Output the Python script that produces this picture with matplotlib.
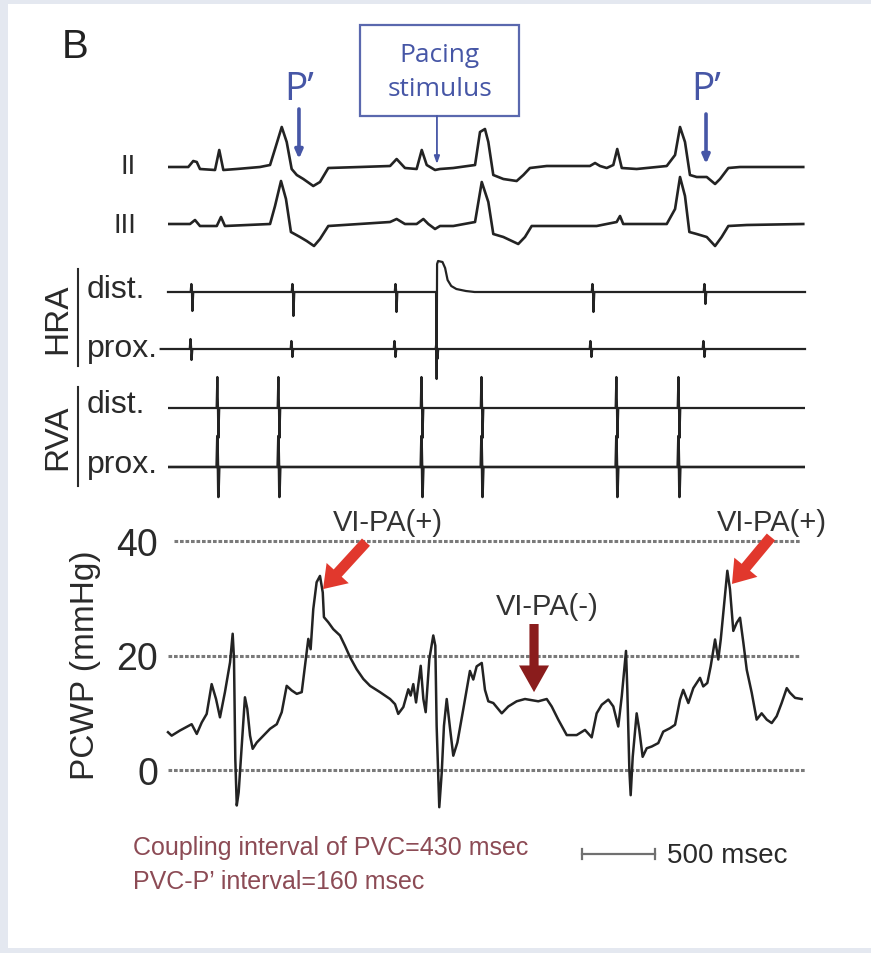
import matplotlib
matplotlib.use('Agg')
import matplotlib.pyplot as plt
from matplotlib.patches import Rectangle

plt.rcParams['font.family'] = ['Liberation Sans', 'DejaVu Sans']

# ---------------- data (time in msec from start of strip) ----------------
# surface ECG leads, amplitude in arbitrary units (positive = up)
ii_t = [0, 139, 173, 197, 219, 322, 351, 379, 471, 630, 699, 733, 779, 813, 847, 882, 927, 995, 1041, 1098,
        1315, 1521, 1566, 1623, 1703, 1738, 1772, 1829, 1863, 1954, 2103, 2137, 2171, 2194, 2228, 2297, 2388,
        2434, 2479, 2594, 2890, 2925, 2959, 3005, 3050, 3077, 3108, 3210, 3416, 3473, 3507, 3541, 3575, 3621,
        3690, 3747, 3781, 3838, 3918, 4351]
ii_amp = [0, 0, 6, 5, -2, -3, 17, -3, -2, 0, 2, 18, 40, 25, -2, -8, -12, -19, -15, -1,
          0, 1, 8, -1, -2, 17, 2, -3, -2, -1, 2, 35, 38, 25, -8, -12, -14,
          -8, -1, 1, 1, 4, 1, -1, 2, 18, -1, -2, 1, 12, 40, 25, -8, -10,
          -10, -17, -12, -1, 0, 0]

iii_t = [0, 151, 185, 219, 334, 363, 390, 699, 733, 774, 808, 842, 904, 950, 1000, 1041, 1098, 1521, 1566,
         1623, 1703, 1749, 1783, 1829, 1863, 1954, 2103, 2149, 2194, 2228, 2297, 2399, 2445, 2491, 2936, 3073,
         3096, 3118, 3416, 3473, 3507, 3541, 3571, 3621, 3690, 3747, 3792, 3838, 3964, 4351]
iii_amp = [0, 0, 4, -2, -2, 7, -2, 0, 18, 43, 25, -8, -13, -17, -22, -15, -2, 2, 5,
           0, 0, 5, 0, -5, -2, -2, 2, 42, 22, -10, -13, -20, -13, -2, -2, 2,
           8, 0, 0, 15, 47, 28, -8, -10, -13, -22, -13, -2, -1, 0]

# intracardiac electrograms: activation times and deflection sizes
hra_dist_spikes = [164, 856, 1562, 2911, 3678]
hra_dist_up = [8, 8, 8, 8, 8]
hra_dist_down = [19, 24, 20, 20, 12]
hra_prox_spikes = [158, 849, 1555, 1842, 2897, 3671]
hra_prox_up = [10, 8, 8, 6, 8, 8]
hra_prox_down = [11, 8, 8, 10, 8, 8]
# pacing artefact recorded on HRA distal
pace_t = [1836, 1840, 1843, 1850, 1880, 1898, 1915, 1940, 1975, 2040, 2100]
pace_amp = [0, -87, 28, 31, 30, 24, 12, 6, 3, 1, 0]
rva_spikes = [342, 760, 1740, 2151, 3075, 3500]
rva_up = 31
rva_down = 30

# pulmonary capillary wedge pressure (mmHg)
pcwp_t = [0, 25, 82, 162, 197, 231, 265, 299, 329, 356, 390, 425, 443, 452, 461, 471, 484, 505, 527, 543,
          562, 580, 608, 653, 699, 745, 779, 813, 847, 882, 916, 938, 961, 977, 995, 1018, 1041, 1060, 1068, 1098,
          1132, 1178, 1212, 1247, 1292, 1338, 1384, 1452, 1521, 1555, 1577, 1612, 1646, 1662, 1680, 1699, 1731,
          1749, 1765, 1790, 1817, 1831, 1840, 1858, 1875, 1890, 1909, 1932, 1954, 1982, 2023, 2068, 2091, 2114,
          2149, 2171, 2194, 2228, 2286, 2331, 2388, 2445, 2491, 2536, 2594, 2628, 2673, 2731, 2799, 2856, 2902,
          2936, 2971, 3016, 3050, 3084, 3108, 3137, 3146, 3160, 3169, 3183, 3210, 3228, 3251, 3279, 3313, 3358,
          3392, 3438, 3473, 3507, 3529, 3564, 3598, 3644, 3666, 3694, 3717, 3747, 3769, 3786, 3808, 3831, 3849,
          3872, 3895, 3918, 3941, 3964, 3998, 4032, 4066, 4101, 4135, 4169, 4203, 4238, 4260, 4295, 4340]
pcwp = [6.6, 6.0, 6.9, 8.0, 6.3, 8.3, 9.8, 15.0, 12.4, 9.2, 13.6, 18.8, 23.8, 19.4, 1.9, -6.2, -3.9, 4.2, 12.7, 10.7,
        6.0, 3.7, 4.8, 6.0, 7.2, 8.0, 10.1, 14.7, 13.9, 13.3, 13.6, 18.2, 22.9, 21.1, 28.1, 32.8, 33.9, 31.0, 26.7, 25.8,
        24.6, 23.5, 21.7, 19.7, 17.6, 15.9, 14.7, 13.6, 12.4, 11.5, 9.8, 11.0, 14.1, 13.0, 15.0, 11.8, 18.2,
        12.4, 10.1, 19.4, 23.5, 21.7, 7.7, -6.5, -0.4, 7.7, 12.4, 7.2, 2.5, 4.8, 10.7, 17.3, 15.8, 18.1,
        18.7, 14.0, 12.0, 11.7, 9.9, 11.1, 12.0, 12.4, 12.2, 12.0, 12.4, 11.1, 8.8, 6.1, 6.1, 7.0, 5.7,
        9.9, 11.4, 12.3, 11.1, 7.6, 12.9, 20.8, 14.0, 0.0, -4.4, 2.3, 9.9, 7.0, 2.3, 3.8, 4.1, 4.7,
        6.7, 7.3, 7.9, 12.3, 14.0, 11.7, 14.3, 16.1, 14.6, 15.2, 18.1, 22.8, 19.3, 22.8, 28.7, 34.8, 31.6,
        24.3, 25.7, 26.6, 22.2, 17.5, 13.5, 8.8, 9.9, 8.8, 8.2, 9.4, 11.7, 14.3, 13.5, 12.6, 12.4]
pcwp_ticks = [0, 20, 40]

scale_bar_ms = 500
strip_ms = 4363

# ---------------- layout (pixels of the 871x954 picture) ----------------
W, H = 871, 954
X0, X1 = 168, 805           # strip left / right edge
PX_PER_MS = (X1 - X0) / strip_ms
BASE = {'II': 168, 'III': 225, 'HRA d': 293, 'HRA p': 350, 'RVA d': 409, 'RVA p': 468}
Y0_MMHG, PX_PER_MMHG = 771, 5.725
TRACE = '#232323'
BLUE = '#4656a6'
INK = '#2a2a2a'


def fx(x):
    return x / W


def fy(y):
    return 1 - y / H


def spike_path(times, ups, downs, start=0, end=strip_ms):
    t, a = [start], [0]
    for s, u, d in zip(times, ups, downs):
        t += [s - 9, s - 4, s, s + 3, s + 9]
        a += [0, u, 2, -d, 0]
    t.append(end)
    a.append(0)
    return t, a


fig = plt.figure(figsize=(W / 100, H / 100), dpi=100)
fig.patch.set_facecolor('#e4e8f0')
fig.add_artist(Rectangle((fx(8), fy(949)), fx(W - 8), (949 - 5) / H, transform=fig.transFigure,
                         facecolor='white', edgecolor='none', zorder=-5))

# top axes: x in msec, y in picture pixels
ax = fig.add_axes([fx(X0), 0, fx(X1 - X0), 1])
ax.set_xlim(0, strip_ms)
ax.set_ylim(H, 0)
ax.axis('off')

ax.plot(ii_t, [BASE['II'] - v for v in ii_amp], color=TRACE, lw=1.9)
ax.plot(iii_t, [BASE['III'] - v for v in iii_amp], color=TRACE, lw=1.9)

# HRA distal with pacing artefact spliced in
t, a = spike_path(hra_dist_spikes, hra_dist_up, hra_dist_down)
pts = sorted(zip(t + pace_t, a + pace_amp))
ax.plot([p[0] for p in pts], [BASE['HRA d'] - p[1] for p in pts], color=TRACE, lw=1.6, clip_on=False)
t, a = spike_path(hra_prox_spikes, hra_prox_up, hra_prox_down, start=-50)
ax.plot(t, [BASE['HRA p'] - v for v in a], color=TRACE, lw=1.6, clip_on=False)

n = len(rva_spikes)
t, a = spike_path(rva_spikes, [rva_up] * n, [rva_down] * n)
ax.plot(t, [BASE['RVA d'] - v for v in a], color=TRACE, lw=1.6)
ax.plot(t, [BASE['RVA p'] - v for v in a], color=TRACE, lw=1.9)

# scale bar
sb_x = (582 - X0) / PX_PER_MS
ax.plot([sb_x, sb_x + scale_bar_ms], [855, 855], color='#707070', lw=1.6)
for xx in (sb_x, sb_x + scale_bar_ms):
    ax.plot([xx, xx], [850, 860], color='#707070', lw=1.6)
ax.text(sb_x + scale_bar_ms + 85, 856, '500 msec', fontsize=20, color=INK, va='center', ha='left')

# annotations on the ECG
p_arrow = dict(arrowstyle='-|>,head_length=0.5,head_width=0.22', color=BLUE, lw=2.6, shrinkA=0, shrinkB=0)
for tx, ytop, ybot in ((897, 110, 160), (3685, 115, 165)):
    ax.annotate('', xy=(tx, ybot), xytext=(tx, ytop), arrowprops=p_arrow)
    ax.text(tx, 100, 'P\u2019', fontsize=28, color=BLUE, ha='center', va='baseline',
            family=['Open Sans', 'DejaVu Sans'])
ax.add_patch(Rectangle((1315, 26), 1089, 91, facecolor='white', edgecolor='#5a68ae', lw=1.6))
ax.text(1860, 56, 'Pacing', fontsize=19, color=BLUE, ha='center', va='center', family=['Open Sans', 'DejaVu Sans'])
ax.text(1860, 90, 'stimulus', fontsize=19, color=BLUE, ha='center', va='center',
        family=['Open Sans', 'DejaVu Sans'])
ax.annotate('', xy=(1842, 165), xytext=(1842, 117),
            arrowprops=dict(arrowstyle='-|>,head_length=0.45,head_width=0.16', color=BLUE, lw=1.3,
                            shrinkA=0, shrinkB=0))

# lead labels
fig.text(fx(136), fy(167), 'II', fontsize=20, ha='right', va='center', color=INK)
fig.text(fx(136), fy(226), 'III', fontsize=20, ha='right', va='center', color=INK)
for lab, yd, yp, ybar in (('HRA', 290, 349, (270, 367)), ('RVA', 405, 465, (388, 487))):
    fig.text(fx(58), fy((ybar[0] + ybar[1]) / 2), lab, fontsize=24, rotation=90, ha='center', va='center',
             color=INK)
    fig.add_artist(plt.Line2D([fx(78), fx(78)], [fy(ybar[0]), fy(ybar[1])], color=INK, lw=1.5))
    fig.text(fx(87), fy(yd), 'dist.', fontsize=23, ha='left', va='center', color=INK)
    fig.text(fx(87), fy(yp), 'prox.', fontsize=23, ha='left', va='center', color=INK)
fig.text(fx(62), fy(47), 'B', fontsize=29, ha='left', va='center', color='#222222')

# PCWP panel
axp = fig.add_axes([fx(X0), fy(830), fx(X1 - X0), (830 - 500) / H])
axp.set_xlim(0, strip_ms)
axp.set_ylim((Y0_MMHG - 830) / PX_PER_MMHG, (Y0_MMHG - 500) / PX_PER_MMHG)
axp.patch.set_visible(False)
for s in axp.spines.values():
    s.set_visible(False)
axp.set_xticks([])
axp.set_yticks(pcwp_ticks)
axp.tick_params(axis='y', length=0, pad=7, labelsize=27, labelcolor=INK)
axp.set_ylabel('PCWP (mmHg)', fontsize=24, color=INK)
axp.yaxis.set_label_coords(-(168 - 101) / (X1 - X0), 0.5)
for lvl in pcwp_ticks:
    x_start = 41 if lvl == 40 else 0
    axp.plot([x_start, 4330 if lvl else strip_ms], [lvl, lvl], color='#7a7a7a', lw=2.2,
             linestyle=(0, (1.2, 0.6)), zorder=1)
axp.plot(pcwp_t, pcwp, color=TRACE, lw=1.8, zorder=3, clip_on=False)

red_arrow = dict(arrowstyle='simple,head_width=1.8,head_length=1.3,tail_width=0.65', fc='#e1382d', ec='none',
                 mutation_scale=12, shrinkA=0, shrinkB=0)
axp.annotate('', xy=(1062, 31.6), xytext=(1356, 39.8), arrowprops=red_arrow, zorder=5)
axp.annotate('', xy=(3863, 32.5), xytext=(4130, 40.7), arrowprops=red_arrow, zorder=5)
axp.annotate('', xy=(2507, 13.6), xytext=(2507, 25.5),
             arrowprops=dict(arrowstyle='simple,head_width=1.8,head_length=1.6,tail_width=0.55', fc='#8a1c1c',
                             ec='none', mutation_scale=12, shrinkA=0, shrinkB=0), zorder=5)
vi_font = dict(fontsize=21, color='#333333', ha='center', va='center')
axp.text(1507, 43.4, 'VI-PA(+)', **vi_font)
axp.text(4137, 43.4, 'VI-PA(+)', **vi_font)
axp.text(2596, 28.6, 'VI-PA(-)', **vi_font)

txt_col = '#8c4b55'
fig.text(fx(133), fy(848), 'Coupling interval of PVC=430 msec', fontsize=18, color=txt_col, va='center')
fig.text(fx(133), fy(882), 'PVC-P\u2019 interval=160 msec', fontsize=18, color=txt_col, va='center')

fig.savefig('out.png', dpi=100, facecolor=fig.get_facecolor())
